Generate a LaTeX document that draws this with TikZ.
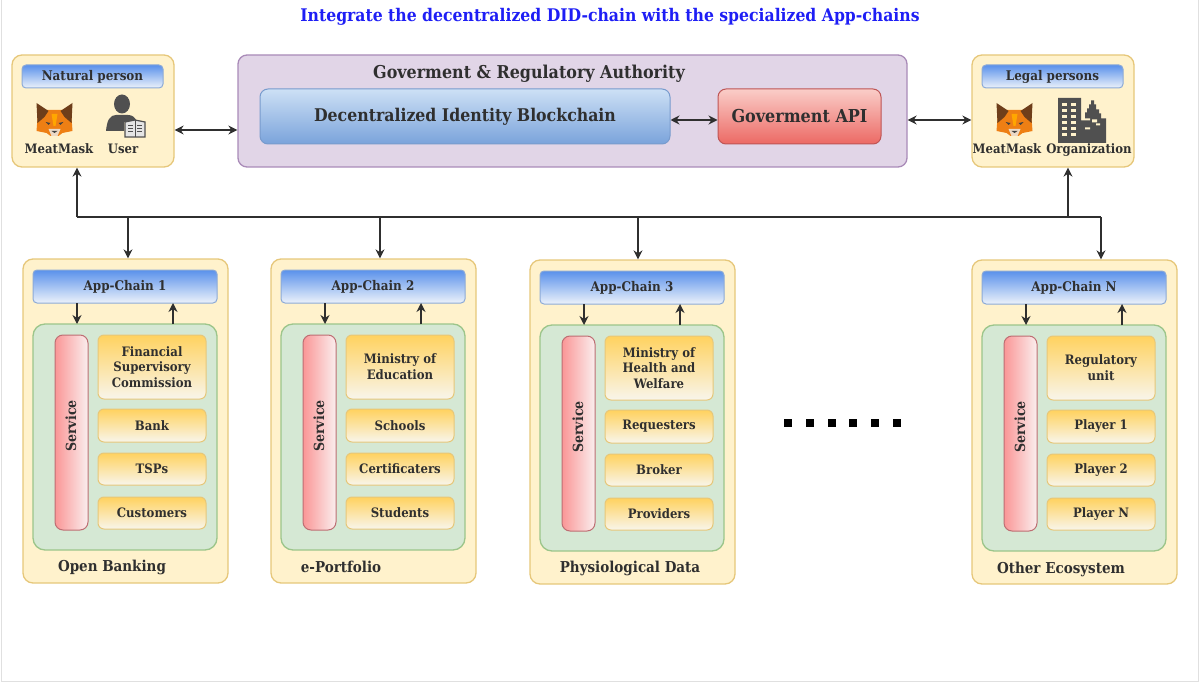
\documentclass[tikz,border=0pt]{standalone}
\usepackage{fontspec}
\setmainfont{DejaVu Serif Condensed}[BoldFont={DejaVu Serif Condensed Bold}]
\usetikzlibrary{arrows.meta,shadings}
\definecolor{ybg}{HTML}{FFF2CC}\definecolor{yln}{HTML}{E6C77A}
\definecolor{pbg}{HTML}{E1D5E7}\definecolor{pln}{HTML}{A98BB8}
\definecolor{gbg}{HTML}{D5E8D4}\definecolor{gln}{HTML}{9CC58A}
\definecolor{ink}{HTML}{2F2F2F}\definecolor{icon}{HTML}{505050}
\definecolor{foxo}{HTML}{EE7F14}\definecolor{foxb}{HTML}{6E3E1A}
\tikzset{
 x=1pt,y=-1pt,
 base/.style={rounded corners=#1,inner sep=0pt,align=center,text=ink,font=\bfseries,line width=1pt},
 base/.default=5pt,
 panel/.style={base=10pt,fill=ybg,draw=yln,line width=1.3pt},
 authority/.style={base=9pt,fill=pbg,draw=pln,line width=1.3pt},
 inner/.style={base=12pt,fill=gbg,draw=gln,line width=1.3pt},
 head/.style={base=4pt,top color={rgb,255:red,90;green,145;blue,235},bottom color={rgb,255:red,236;green,242;blue,250},draw={rgb,255:red,140;green,170;blue,215},font=\bfseries\fontsize{13.3}{15}\selectfont},
 bigblue/.style={base=8pt,top color={rgb,255:red,205;green,224;blue,245},bottom color={rgb,255:red,122;green,163;blue,219},draw={rgb,255:red,120;green,155;blue,205},font=\bfseries\fontsize{17.5}{20}\selectfont},
 bigred/.style={base=8pt,top color={rgb,255:red,250;green,205;blue,200},bottom color={rgb,255:red,236;green,105;blue,100},draw={rgb,255:red,190;green,85;blue,85},font=\bfseries\fontsize{17.8}{20}\selectfont},
 service/.style={base=8pt,left color={rgb,255:red,250;green,150;blue,150},right color={rgb,255:red,250;green,238;blue,238},draw={rgb,255:red,190;green,110;blue,115}},
 actor/.style={base=6pt,top color={rgb,255:red,255;green,210;blue,95},bottom color={rgb,255:red,248;green,245;blue,235},draw=yln,font=\bfseries\fontsize{13}{15.8}\selectfont},
 lab/.style={inner sep=0pt,text=ink,text height=9.5pt,text depth=2.5pt,font=\bfseries\fontsize{13}{15}\selectfont},
 caption/.style={inner sep=0pt,text=ink,font=\bfseries\fontsize{15}{17}\selectfont},
 conn/.style={draw=ink,line width=1.25pt,-{Stealth[length=9pt,width=9pt]}},
 dconn/.style={draw=ink,line width=1.25pt,{Stealth[length=9pt,width=9pt]}-{Stealth[length=9pt,width=9pt]}},
 bus/.style={draw=ink,line width=1.25pt},
 dot/.style={fill=black,inner sep=0pt,minimum size=7.5pt},
 fox/.pic={
  \fill[foxo] (-14,-10) -- (14,-10) -- (17,-2) -- (18,11) -- (8,13) -- (4,16) -- (-4,16) -- (-8,13) -- (-18,11) -- (-17,-2) -- cycle;
  \fill[foxb] (-18,-17) -- (-6,-9) -- (-10,-3) -- (-17,3) -- cycle;
  \fill[foxb] (18,-17) -- (6,-9) -- (10,-3) -- (17,3) -- cycle;
  \fill[brown!30!white] (-6,9) -- (6,9) -- (3,16) -- (-3,16) -- cycle;
  \fill[black!75] (-9,2) -- (-4,3) -- (-6,5) -- cycle (9,2) -- (4,3) -- (6,5) -- cycle (-3,11) -- (3,11) -- (0,13) -- cycle;
  \fill[orange!70!yellow] (-3,-6) -- (3,-6) -- (1,6) -- (-1,6) -- cycle;
 },
 userpic/.pic={
  \fill[icon] (0,-10) ellipse (8 and 9.5);
  \fill[icon] (-16,17) .. controls (-15,6) and (-12,1) .. (-6,1) -- (6,1) .. controls (10,1) and (13,3) .. (15,8) -- (2,8) -- (2,17) -- cycle;
  \filldraw[fill=white!85!icon,draw=icon,line width=1.2pt] (3,8) -- (13,6) -- (23,8) -- (23,23) -- (13,23) -- (3,23) -- cycle;
  \draw[icon,line width=1pt] (13,6) -- (13,23) (6,12) -- (11,12) (6,15) -- (11,15) (6,18) -- (11,18) (15,12) -- (20,12) (15,15) -- (20,15) (15,18) -- (20,18);
 },
 orgpic/.pic={
  \fill[icon] (-24,-22.5) -- (-1,-22.5) -- (-1,0) -- (3,0) -- (3,-8) -- (5,-8) -- (5,-12) -- (7,-12) -- (7,-16) -- (9,-16) -- (9,-20) -- (12,-20) -- (12,-16) -- (14,-16) -- (14,-11) -- (17,-11) -- (17,-7) -- (19,-7) -- (19,-2) -- (24,-2) -- (24,22.5) -- (-24,22.5) -- cycle;
  \foreach \i in {-17,-11,-5,1,7,13}{\fill[ybg] (-20,\i) rectangle (-15,\i+3);\fill[ybg] (-11,\i) rectangle (-6,\i+3);}
  \fill[ybg] (3,-2) rectangle (8,0) (10,-1) rectangle (15,2) (3,7) rectangle (8,9) (14,3) rectangle (18,5);
 },
}
\newcommand{\bx}[7]{\pgfmathsetmacro{\wa}{#5-#3}\pgfmathsetmacro{\ha}{#6-#4}\pgfmathsetmacro{\cxa}{(#3+#5)/2}\pgfmathsetmacro{\cya}{(#4+#6)/2}%
 \node[#2,minimum width=\wa pt,minimum height=\ha pt] (#1) at (\cxa,\cya) {#7};}
\newcommand{\chain}[8]{% id dx dy header a b c d
 \begin{scope}[shift={(#2,#3)}]
 \bx{p#1}{panel}{23}{259}{228}{583}{}
 \bx{h#1}{head}{33}{270}{217}{303}{#4}
 \bx{g#1}{inner}{33}{324}{217}{550}{}
 \bx{s#1}{service}{55}{335}{88}{530}{}
 \node[rotate=90,inner sep=0pt,text=ink,font=\bfseries\fontsize{14}{15}\selectfont] (st#1) at (71,426) {Service};
 \bx{a#1}{actor}{98}{335}{206}{399}{#5}
 \bx{b#1}{actor}{98}{409}{206}{442}{#6}
 \bx{c#1}{actor}{98}{453}{206}{485}{#7}
 \bx{d#1}{actor}{98}{497}{206}{529}{#8}
 \coordinate (hd#1) at (77,303);\coordinate (gd#1) at (77,324);
 \coordinate (hu#1) at (173,303);\coordinate (gu#1) at (173,324);
 \draw[conn] (hd#1) -- (gd#1);
 \draw[conn] (gu#1) -- (hu#1);
 \end{scope}}
\begin{document}
\begin{tikzpicture}
\useasboundingbox (0,0) rectangle (1200,682);
\draw[black!12,line width=1pt] (1,0) -- (1,681) -- (1198,681) -- (1198,0);
\node[inner sep=0pt,text={rgb,255:red,30;green,30;blue,245},font=\bfseries\fontsize{17.4}{20}\selectfont] (title) at (610,17) {Integrate the decentralized DID-chain with the specialized App-chains};

\bx{np}{panel}{12}{55}{174}{167}{}
\bx{nph}{head}{22}{65}{163}{88}{Natural person}
\pic at (54.5,120) {fox};
\pic at (122,114) {userpic};
\node[lab] (npm) at (59,150) {MeatMask};
\node[lab] (npu) at (123,150) {User};

\bx{gov}{authority}{238}{55}{907}{167}{}
\node[inner sep=0pt,text=ink,font=\bfseries\fontsize{17.7}{20}\selectfont] (govt) at (529,74) {Goverment \& Regulatory Authority};
\bx{did}{bigblue}{260}{89}{670}{144}{Decentralized Identity Blockchain}
\bx{api}{bigred}{718}{89}{881}{144}{Goverment API}

\bx{lp}{panel}{972}{55}{1134}{167}{}
\bx{lph}{head}{982}{65}{1123}{88}{Legal persons}
\pic at (1014.5,120) {fox};
\pic at (1082,120.5) {orgpic};
\node[lab] (lpm) at (1007,150) {MeatMask};
\node[lab] (lpo) at (1089,150) {Organization};

\chain{1}{0}{0}{App-Chain 1}{Financial\\Supervisory\\Commission}{Bank}{TSPs}{Customers}
\chain{2}{248}{0}{App-Chain 2}{Ministry of\\Education}{Schools}{Certificaters}{Students}
\chain{3}{507}{1}{App-Chain 3}{Ministry of\\Health and\\Welfare}{Requesters}{Broker}{Providers}
\chain{4}{949}{1}{App-Chain N}{Regulatory\\unit}{Player 1}{Player 2}{Player N}

\node[caption] (c1) at (112,567) {Open Banking};
\node[caption] (c2) at (341,567) {e-Portfolio};
\node[caption] (c3) at (630,568) {Physiological Data};
\node[caption] (c4) at (1061,569) {Other Ecosystem};

\foreach \i/\xx in {1/788,2/810,3/832,4/853,5/875,6/897}{\node[dot] (dot\i) at (\xx,423) {};}

\draw[dconn] (np.east |- 0,130) coordinate (npe) -- (gov.west |- npe);
\draw[dconn] (did.east |- 0,120) coordinate (dide) -- (api.west |- dide);
\draw[dconn] (gov.east |- 0,120) coordinate (gove) -- (lp.west |- gove);

\coordinate (busl) at (77,217);\coordinate (busr) at (1101,217);
\coordinate (j1) at (128,217);\coordinate (j2) at (380,217);\coordinate (j3) at (638,217);\coordinate (j4) at (1068,217);
\draw[bus] (busl) -- (busr);
\draw[conn] (busl) -- (np.south -| busl);
\draw[conn] (j4) -- (lp.south -| j4);
\draw[conn] (j1) -- (p1.north -| j1);
\draw[conn] (j2) -- (p2.north -| j2);
\draw[conn] (j3) -- (p3.north -| j3);
\draw[conn] (busr) -- (p4.north -| busr);
\end{tikzpicture}
\end{document}
